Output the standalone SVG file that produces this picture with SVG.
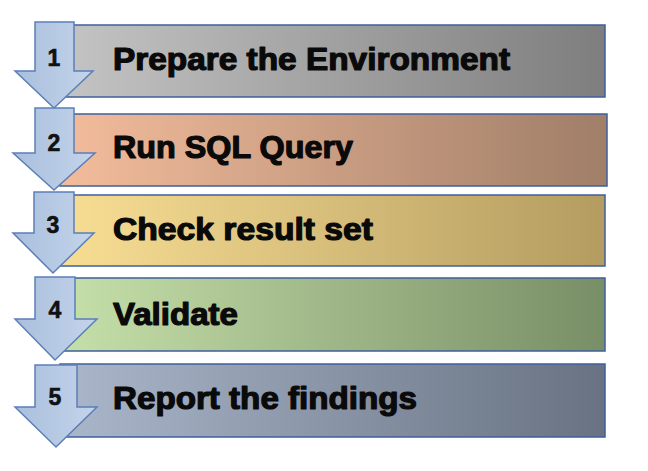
<svg xmlns="http://www.w3.org/2000/svg" width="648" height="471" viewBox="0 0 648 471">
<defs>
<linearGradient id="g1" x1="0" y1="0" x2="1" y2="0"><stop offset="0" stop-color="#c4c4c4"/><stop offset="1" stop-color="#7e7e7e"/></linearGradient>
<linearGradient id="g2" x1="0" y1="0" x2="1" y2="0"><stop offset="0" stop-color="#f3bc9c"/><stop offset="1" stop-color="#a07e68"/></linearGradient>
<linearGradient id="g3" x1="0" y1="0" x2="1" y2="0"><stop offset="0" stop-color="#f8de94"/><stop offset="1" stop-color="#b49c60"/></linearGradient>
<linearGradient id="g4" x1="0" y1="0" x2="1" y2="0"><stop offset="0" stop-color="#c6e0aa"/><stop offset="1" stop-color="#788e66"/></linearGradient>
<linearGradient id="g5" x1="0" y1="0" x2="1" y2="0"><stop offset="0" stop-color="#aab6ca"/><stop offset="1" stop-color="#687282"/></linearGradient>
<linearGradient id="ga" x1="0" y1="0" x2="1" y2="0"><stop offset="0" stop-color="#a9bfdd"/><stop offset="1" stop-color="#c4d4ea"/></linearGradient>
</defs>
<style>
.box{stroke:#3f5f9c;stroke-width:1.5}
.arr{fill:url(#ga);stroke:#5b7fb8;stroke-width:1.5;stroke-linejoin:miter}
.lbl{font-family:"Liberation Sans",Arial,sans-serif;font-weight:bold;font-size:31px;fill:#0a0a0a;stroke:#0a0a0a;stroke-width:1.2;stroke-linejoin:round}
.num{font-family:"Liberation Sans",Arial,sans-serif;font-weight:bold;font-size:23px;fill:#111;stroke:#111;stroke-width:0.6;text-anchor:middle}
</style>
<rect width="648" height="471" fill="#ffffff"/>
<g id="step1">
<rect class="box" x="60" y="25" width="545" height="72" fill="url(#g1)"/>
<text class="lbl" x="113" y="70" textLength="397" lengthAdjust="spacingAndGlyphs">Prepare the Environment</text>
</g>
<g id="step2">
<rect class="box" x="60" y="114" width="547" height="72" fill="url(#g2)"/>
<text class="lbl" x="113" y="158" textLength="240" lengthAdjust="spacingAndGlyphs">Run SQL Query</text>
</g>
<g id="step3">
<rect class="box" x="60" y="195" width="545" height="71" fill="url(#g3)"/>
<text class="lbl" x="113" y="240" textLength="260" lengthAdjust="spacingAndGlyphs">Check result set</text>
</g>
<g id="step4">
<rect class="box" x="60" y="278" width="545" height="73" fill="url(#g4)"/>
<text class="lbl" x="113" y="325" textLength="125" lengthAdjust="spacingAndGlyphs">Validate</text>
</g>
<g id="step5">
<rect class="box" x="60" y="364" width="545" height="73" fill="url(#g5)"/>
<text class="lbl" x="113" y="409" textLength="304" lengthAdjust="spacingAndGlyphs">Report the findings</text>
</g>
<g id="arrows">
<g id="arrow1"><path class="arr" d="M35 22 H74 V71 H93 L54 108 L15 71 H35 Z"/><text class="num" x="54" y="66">1</text></g>
<g id="arrow2"><path class="arr" d="M35 108 H74 V153 H95 L54 190 L13 153 H35 Z"/><text class="num" x="54" y="151">2</text></g>
<g id="arrow3"><path class="arr" d="M34 192 H74 V233 H94 L53 273 L13 233 H34 Z"/><text class="num" x="53" y="233">3</text></g>
<g id="arrow4"><path class="arr" d="M35 277 H75 V319 H97 L55 360 L15 319 H35 Z"/><text class="num" x="55" y="318">4</text></g>
<g id="arrow5"><path class="arr" d="M35 365 H77 V407 H97 L56 447 L15 407 H35 Z"/><text class="num" x="55" y="405">5</text></g>
</g>
</svg>
